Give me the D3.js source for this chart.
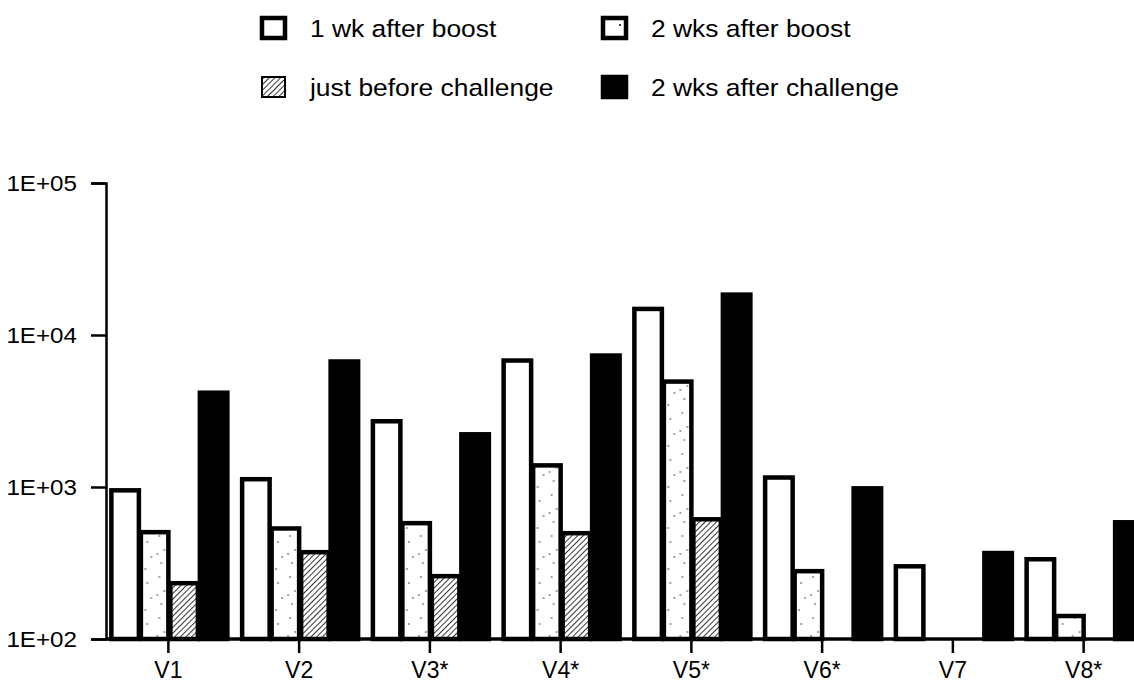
<!DOCTYPE html>
<html>
<head>
<meta charset="utf-8">
<script src="https://cdn.jsdelivr.net/npm/d3@7"></script>
<style>
  body { margin: 0; background: #fff; }
  text { font-family: "Liberation Sans", Arial, sans-serif; fill: #000; }
</style>
</head>
<body>
<div id="chart"></div>
<script>
var width = 1134, height = 682;

var categories = ["V1", "V2", "V3*", "V4*", "V5*", "V6*", "V7", "V8*"];
var seriesNames = ["1 wk after boost", "2 wks after boost", "just before challenge", "2 wks after challenge"];

// titres per vaccine group, null = nothing drawn
var wk1Boost      = [980, 1160, 2790, 7000, 15300, 1190, 310, 345];
var wk2Boost      = [520, 550, 596, 1430, 5090, 288, null, 146];
var preChallenge  = [240, 384, 267, 512, 632, null, null, null];
var postChallenge = [4300, 6900, 2290, 7550, 19000, 1010, 379, 604];

var yTicks = [1e2, 1e3, 1e4, 1e5];
var yTickLabels = ["1E+02", "1E+03", "1E+04", "1E+05"];

var seriesValues = [wk1Boost, wk2Boost, preChallenge, postChallenge];

////////////////////////////////////////////////////////////
/////////////////////// Scales /////////////////////////////
////////////////////////////////////////////////////////////

var y = d3.scaleLog()
  .domain([1e2, 1e5])
  .range([639, 183]);

var x0 = d3.scaleBand()
  .domain(categories)
  .range([103, 1149])
  .padding(0);

var groupWidth = 118;
var x1 = d3.scaleBand()
  .domain(d3.range(seriesNames.length))
  .range([0, groupWidth]);

var svg = d3.select("#chart").append("svg")
  .attr("width", width)
  .attr("height", height);

////////////////////////////////////////////////////////////
/////////////////////// Patterns ///////////////////////////
////////////////////////////////////////////////////////////

var defs = svg.append("defs");

var stipple = defs.append("pattern")
  .attr("id", "stipple")
  .attr("patternUnits", "userSpaceOnUse")
  .attr("width", 23).attr("height", 41);
stipple.append("rect").attr("width", 23).attr("height", 41).attr("fill", "#fff");
[[4, 3], [15, 9], [9, 17], [19, 24], [6, 30], [13, 36], [2, 21]].forEach(function(p) {
  stipple.append("circle").attr("cx", p[0]).attr("cy", p[1]).attr("r", 0.9).attr("fill", "#777");
});

var hatch = defs.append("pattern")
  .attr("id", "hatch")
  .attr("patternUnits", "userSpaceOnUse")
  .attr("width", 4).attr("height", 4)
  .attr("patternTransform", "rotate(45)");
hatch.append("rect").attr("width", 4).attr("height", 4).attr("fill", "#fff");
hatch.append("line")
  .attr("x1", 0).attr("y1", 0).attr("x2", 0).attr("y2", 4)
  .attr("stroke", "#111").attr("stroke-width", 1.7);

var fills = ["#fff", "url(#stipple)", "url(#hatch)", "#000"];

////////////////////////////////////////////////////////////
//////////////////////// Bars //////////////////////////////
////////////////////////////////////////////////////////////

var groups = svg.selectAll("g.group")
  .data(categories)
  .enter().append("g")
  .attr("class", "group")
  .attr("transform", function(d) {
    return "translate(" + (x0(d) + (x0.bandwidth() - groupWidth) / 2) + ",0)";
  });

groups.selectAll("rect")
  .data(function(d, i) {
    return seriesValues.map(function(s, k) { return {k: k, v: s[i]}; })
      .filter(function(e) { return e.v != null; });
  })
  .enter().append("rect")
  .attr("x", function(d) { return x1(d.k) + 2; })
  .attr("width", x1.bandwidth() - 2)
  .attr("y", function(d) { return y(d.v) + 2; })
  .attr("height", function(d) { return y(1e2) - y(d.v) - 2; })
  .attr("fill", function(d) { return fills[d.k]; })
  .attr("stroke", "#000")
  .attr("stroke-width", 4.5);

////////////////////////////////////////////////////////////
//////////////////////// Axes //////////////////////////////
////////////////////////////////////////////////////////////

var yAxis = svg.append("g")
  .attr("transform", "translate(106,0)")
  .call(d3.axisLeft(y)
    .tickValues(yTicks)
    .tickSize(15)
    .tickPadding(14)
    .tickFormat(function(d, i) { return yTickLabels[i]; }));
yAxis.select(".domain").attr("stroke-width", 2.5);
yAxis.selectAll(".tick line").attr("stroke-width", 2.5);
// labels a little wider than plain Arial
yAxis.selectAll("text")
  .style("font-size", "22px")
  .attr("x", 0)
  .attr("transform", "translate(-29,0) scale(1.1,1)");

var xAxis = svg.append("g")
  .attr("transform", "translate(0,639)")
  .call(d3.axisBottom(x0).tickSize(14).tickPadding(9).tickSizeOuter(0));
xAxis.select(".domain").attr("d", "M106,0H1134").attr("stroke-width", 3.5);
xAxis.selectAll(".tick line").attr("stroke-width", 2.5);
xAxis.selectAll("text").style("font-size", "23px");

////////////////////////////////////////////////////////////
/////////////////////// Legend /////////////////////////////
////////////////////////////////////////////////////////////

var legendPos = [[260, 16], [601, 16], [260, 75], [601, 75]];

var legend = svg.selectAll("g.legend")
  .data(seriesNames)
  .enter().append("g")
  .attr("class", "legend")
  .attr("transform", function(d, i) { return "translate(" + legendPos[i][0] + "," + legendPos[i][1] + ")"; });

legend.append("rect")
  .attr("x", 2).attr("y", 2)
  .attr("width", 23).attr("height", 20)
  .attr("fill", function(d, i) { return i === 1 ? "#fff" : fills[i]; })
  .attr("stroke", "#000")
  .attr("stroke-width", function(d, i) { return i === 2 ? 2 : 4.5; });

legend.filter(function(d, i) { return i === 1; }).append("circle")
  .attr("cx", 19).attr("cy", 9).attr("r", 1).attr("fill", "#000");

legend.append("text")
  .attr("transform", "translate(50,21) scale(1.1,1)")
  .style("font-size", "24px")
  .text(function(d) { return d; });
</script>
</body>
</html>
